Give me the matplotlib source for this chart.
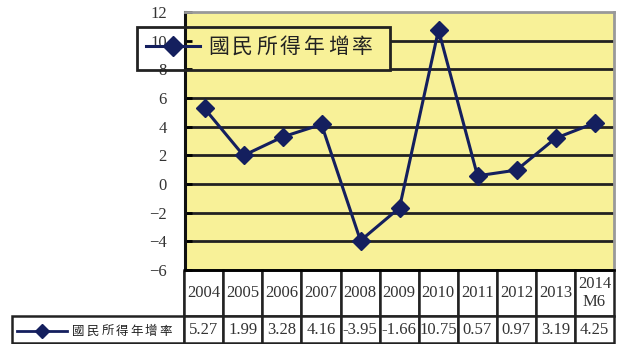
import matplotlib
matplotlib.use('Agg')
import matplotlib.pyplot as plt
from matplotlib.lines import Line2D
from matplotlib.patches import Rectangle

plt.rcParams['font.family'] = ['Liberation Serif', 'Noto Sans CJK TC']

years = ['2004', '2005', '2006', '2007', '2008', '2009', '2010', '2011', '2012', '2013', '2014\nM6']
growth = [5.27, 1.99, 3.28, 4.16, -3.95, -1.66, 10.75, 0.57, 0.97, 3.19, 4.25]
series_name = '國民所得年增率'
yticks = [-6, -4, -2, 0, 2, 4, 6, 8, 10, 12]

navy = '#141f5e'
yellow = '#f8f198'
W, H = 618, 344


def spaced_text(x0, y, s, pitch, size):
    # CJK label drawn with wide letter spacing, one glyph at a time
    for i, ch in enumerate(s):
        fig.text((x0 + i * pitch) / W, 1 - y / H, ch, fontsize=size, va='center',
                 family=['Noto Sans CJK TC'], weight='light', color='#222222', zorder=7)


fig = plt.figure(figsize=(6.18, 3.44), dpi=100)
ax = fig.add_axes([185 / W, 1 - 270 / H, 429 / W, 258 / H])
ax.set_facecolor(yellow)

x = list(range(len(years)))
ax.plot(x, growth, color=navy, lw=2.2, marker='D', ms=9, zorder=3)
ax.set_xlim(-0.5, len(years) - 0.5)
ax.set_ylim(-6, 12)
ax.set_yticks(yticks)
ax.set_yticklabels([str(v).replace('-', '\u2212') for v in yticks], fontsize=12, color='#333333')
ax.set_xticks([])
ax.tick_params(axis='y', direction='in', length=5, width=2, pad=13)
for v in yticks[1:-1]:
    ax.axhline(v, color='#222222', lw=2, zorder=1)
ax.spines['left'].set_linewidth(2.2)
ax.spines['left'].set_color('#111111')
ax.spines['bottom'].set_linewidth(2)
ax.spines['top'].set_color('#999999')
ax.spines['top'].set_linewidth(2)
ax.spines['right'].set_color('#999999')
ax.spines['right'].set_linewidth(2)

# legend area hides the grid inside the plot
box = (137 / W, 1 - 70 / H, 253 / W, 43 / H)
ax.add_patch(Rectangle(box[:2], box[2], box[3], transform=fig.transFigure,
                       facecolor=yellow, edgecolor='none', zorder=1.5))

# data table under the chart
cells = [[''] + years, [''] + ['%.2f' % v for v in growth]]
tab = ax.table(cellText=cells, cellLoc='center',
               bbox=[(12 - 185) / 429, -(343 - 270) / 258, (614 - 12) / 429, (343 - 270) / 258])
tab.auto_set_font_size(False)
for (r, c), cell in tab.get_celld().items():
    cell.set_width(172 if c == 0 else 39)
    cell.set_height(46 if r == 0 else 27)
    cell.set_linewidth(1.8)
    cell.set_edgecolor('#222222')
    cell.get_text().set_fontsize(12)
    cell.get_text().set_color('#333333')
    if r == 0 and c == 0:
        cell.visible_edges = 'R'

# legend key inside the first table cell
fig.add_artist(Line2D([17 / W, 67 / W], [1 - 331 / H] * 2, color=navy, lw=2))
fig.add_artist(Line2D([42 / W], [1 - 331 / H], color=navy, marker='D', ms=7))
spaced_text(72, 331, series_name, 14.6, 9)

# legend box on the chart
fig.add_artist(Rectangle(box[:2], box[2], box[3], transform=fig.transFigure,
                         facecolor='none', edgecolor='#222222', lw=2, zorder=5))
fig.add_artist(Line2D([146 / W, 200 / W], [1 - 46 / H] * 2, color=navy, lw=2.2, zorder=6))
fig.add_artist(Line2D([173 / W], [1 - 46 / H], color=navy, marker='D', ms=10, zorder=6))
spaced_text(208, 47, series_name, 24, 15)

fig.savefig('out.png', dpi=100)
